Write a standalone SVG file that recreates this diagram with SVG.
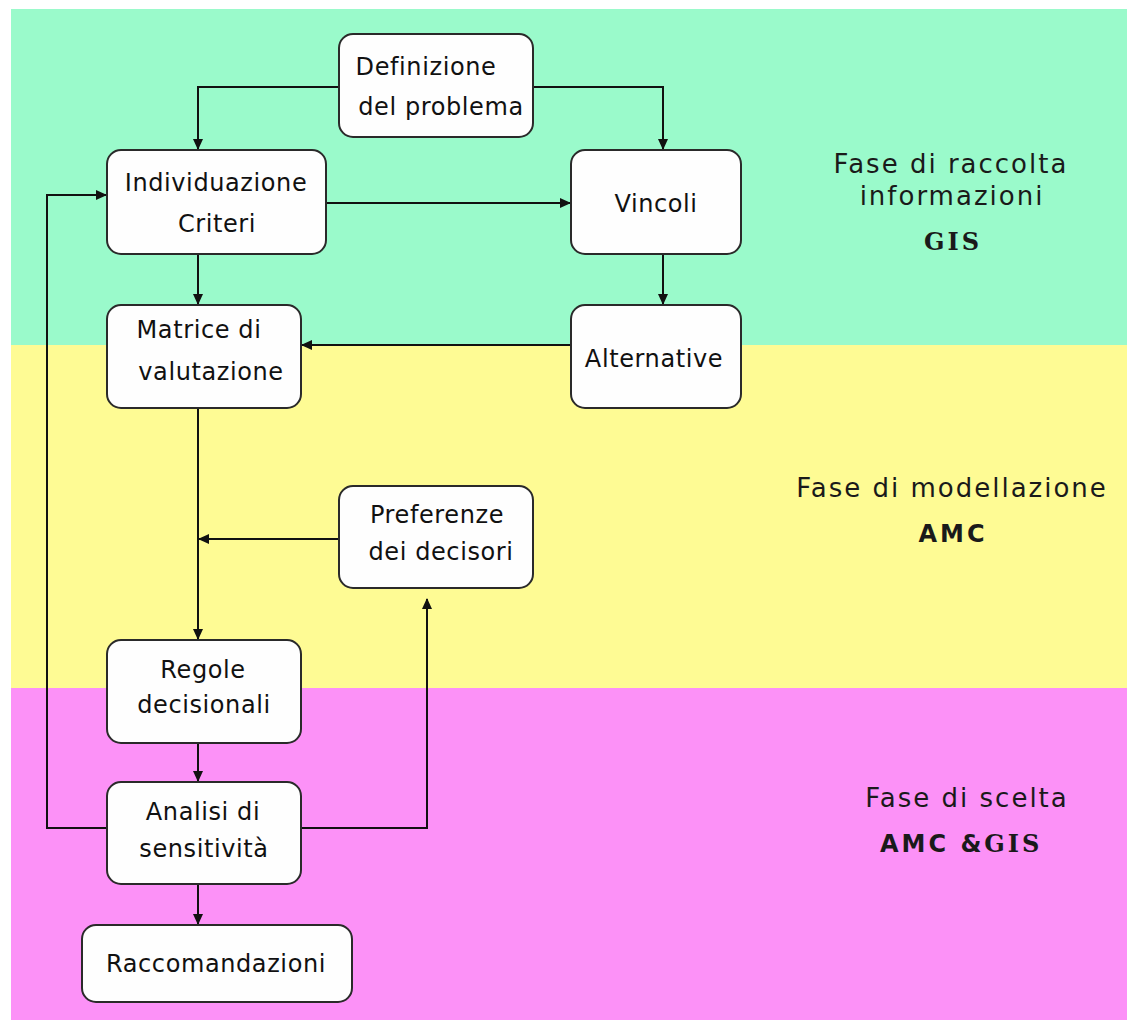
<svg xmlns="http://www.w3.org/2000/svg" width="1127" height="1020" viewBox="0 0 1127 1020">
  <defs>
    <style>
      .band { stroke: none; }
      .box { fill: #fefefe; stroke: #2a2a2a; stroke-width: 2; }
      .lbl { font-family: "DejaVu Sans", Verdana, sans-serif; font-size: 24px; letter-spacing: 0.6px; fill: #111; text-anchor: middle; }
      .phase { font-family: "DejaVu Sans", Verdana, sans-serif; font-size: 26px; letter-spacing: 2px; fill: #1a1a1a; text-anchor: middle; }
      .tool { font-family: "DejaVu Sans", Verdana, sans-serif; font-weight: bold; font-size: 24px; letter-spacing: 3px; fill: #1a1a1a; }
      .toolserif { font-family: "DejaVu Serif", Georgia, serif; font-weight: bold; font-size: 24px; letter-spacing: 3px; fill: #1a1a1a; }
      .wire { fill: none; stroke: #111; stroke-width: 2; }
      .arrow { marker-end: url(#head); }
    </style>
    <marker id="head" markerUnits="userSpaceOnUse" markerWidth="11" markerHeight="10" viewBox="0 0 11 10" refX="10" refY="5" orient="auto">
      <path d="M0,0 L11,5 L0,10 z" fill="#111"/>
    </marker>
  </defs>

  <!-- page -->
  <rect x="0" y="0" width="1127" height="1020" fill="#ffffff"/>

  <!-- phase bands -->
  <g id="bands">
    <rect class="band" x="11" y="9" width="1116" height="336" fill="#9afacb"/>
    <rect class="band" x="11" y="345" width="1116" height="343" fill="#fefb94"/>
    <rect class="band" x="11" y="688" width="1116" height="332" fill="#fc91f7"/>
  </g>

  <!-- phase captions -->
  <g id="phase-raccolta">
    <text class="phase" x="951" y="173">Fase di raccolta</text>
    <text class="phase" x="952" y="205">informazioni</text>
    <text class="toolserif" x="953" y="250" text-anchor="middle">GIS</text>
  </g>
  <g id="phase-modellazione">
    <text class="phase" x="952" y="497">Fase di modellazione</text>
    <text class="tool" x="953" y="542" text-anchor="middle">AMC</text>
  </g>
  <g id="phase-scelta">
    <text class="phase" x="967" y="807">Fase di scelta</text>
    <text x="880" y="852"><tspan class="tool">AMC &amp;</tspan><tspan class="toolserif">GIS</tspan></text>
  </g>

  <!-- connectors -->
  <g id="connectors">
    <path class="wire arrow" d="M339,87 H198 V149"/>
    <path class="wire arrow" d="M533,87 H663 V149"/>
    <path class="wire arrow" d="M326,203 H570"/>
    <path class="wire arrow" d="M198,254 V304"/>
    <path class="wire arrow" d="M663,254 V304"/>
    <path class="wire arrow" d="M571,345 H302"/>
    <path class="wire arrow" d="M198,408 V639"/>
    <path class="wire arrow" d="M339,539 H199"/>
    <path class="wire arrow" d="M198,743 V781"/>
    <path class="wire arrow" d="M107,828 H47 V195 H106"/>
    <path class="wire arrow" d="M301,828 H427 V599"/>
    <path class="wire arrow" d="M198,884 V924"/>
  </g>

  <!-- nodes -->
  <g id="definizione">
    <rect class="box" x="339" y="34" width="194" height="103" rx="14"/>
    <text class="lbl" x="426" y="75">Definizione</text>
    <text class="lbl" x="441" y="115">del problema</text>
  </g>
  <g id="individuazione">
    <rect class="box" x="107" y="150" width="219" height="104" rx="14"/>
    <text class="lbl" x="216" y="191">Individuazione</text>
    <text class="lbl" x="217" y="232">Criteri</text>
  </g>
  <g id="vincoli">
    <rect class="box" x="571" y="150" width="170" height="104" rx="14"/>
    <text class="lbl" x="656" y="212">Vincoli</text>
  </g>
  <g id="matrice">
    <rect class="box" x="107" y="305" width="194" height="103" rx="14"/>
    <text class="lbl" x="199" y="338">Matrice di</text>
    <text class="lbl" x="211" y="380">valutazione</text>
  </g>
  <g id="alternative">
    <rect class="box" x="571" y="305" width="170" height="103" rx="14"/>
    <text class="lbl" x="654" y="367">Alternative</text>
  </g>
  <g id="preferenze">
    <rect class="box" x="339" y="486" width="194" height="102" rx="14"/>
    <text class="lbl" x="437" y="523">Preferenze</text>
    <text class="lbl" x="441" y="560">dei decisori</text>
  </g>
  <g id="regole">
    <rect class="box" x="107" y="640" width="194" height="103" rx="14"/>
    <text class="lbl" x="203" y="678">Regole</text>
    <text class="lbl" x="204" y="713">decisionali</text>
  </g>
  <g id="analisi">
    <rect class="box" x="107" y="782" width="194" height="102" rx="14"/>
    <text class="lbl" x="203" y="820">Analisi di</text>
    <text class="lbl" x="204" y="857">sensitività</text>
  </g>
  <g id="raccomandazioni">
    <rect class="box" x="82" y="925" width="270" height="77" rx="14"/>
    <text class="lbl" x="216" y="972">Raccomandazioni</text>
  </g>
</svg>
